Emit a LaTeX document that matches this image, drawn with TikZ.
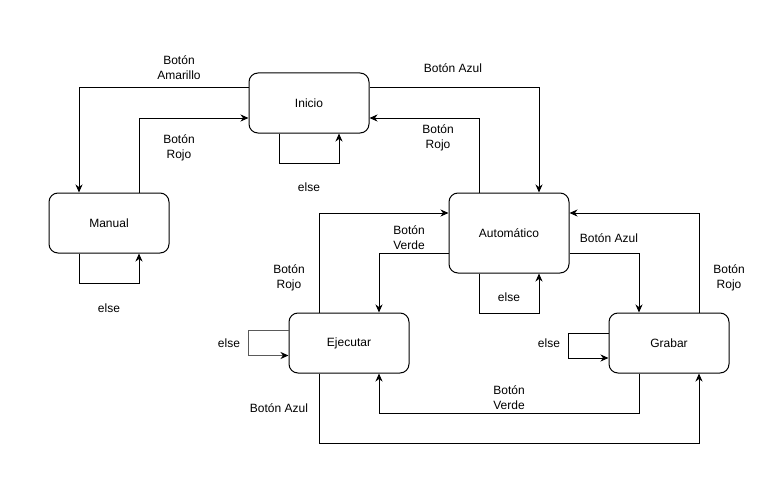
\documentclass[tikz,border=0pt]{standalone}
\usepackage{fontspec}
\setmainfont{Liberation Sans}
\usetikzlibrary{arrows.meta}
\definecolor{loopgray}{RGB}{90,90,90}
\begin{document}
\begin{tikzpicture}[x=1pt,y=-1pt,
  state/.style={draw,line width=1pt,rounded corners=9pt,minimum width=120pt,minimum height=60pt,inner sep=0pt,font=\fontsize{12}{15}\selectfont},
  arr/.style={draw,line width=1pt,-{Stealth[length=8pt,width=7pt,inset=2.5pt]}},
  grayarr/.style={draw=loopgray,line width=1.2pt,-{Stealth[length=8pt,width=7pt,inset=2.5pt,color=black]}},
  lbl/.style={align=center,inner sep=0pt,font=\fontsize{12}{15}\selectfont}]
\useasboundingbox (0,0) rectangle (766,503);
\node[state] (ini) at (309,103) {Inicio};
\node[state] (man) at (109,223) {Manual};
\node[state,minimum height=80pt] (aut) at (509,233) {Automático};
\node[state] (eje) at (349,343) {Ejecutar};
\node[state] (gra) at (669,343) {Grabar};

\draw[arr] ([yshift=15pt]ini.west) -| ([xshift=-30pt]man.north);
\draw[arr] ([xshift=30pt]man.north) |- ([yshift=-15pt]ini.west);
\draw[arr] ([xshift=-30pt]ini.south) -- ++(0,30) -| ([xshift=30pt]ini.south);
\draw[arr] ([xshift=-30pt]man.south) -- ++(0,30) -| ([xshift=30pt]man.south);
\draw[arr] ([yshift=15pt]ini.east) -| ([xshift=30pt]aut.north);
\draw[arr] ([xshift=-30pt]aut.north) |- ([yshift=-15pt]ini.east);
\draw[arr] ([xshift=-30pt]aut.south) -- ++(0,40) -| ([xshift=30pt]aut.south);
\draw[arr] ([yshift=-20pt]aut.west) -| ([xshift=30pt]eje.north);
\draw[arr] ([xshift=-30pt]eje.north) |- ([yshift=20pt]aut.west);
\draw[arr] ([yshift=-20pt]aut.east) -| ([xshift=-30pt]gra.north);
\draw[arr] ([xshift=30pt]gra.north) |- ([yshift=20pt]aut.east);
\draw[grayarr] ([yshift=12.5pt]eje.west) -- ++(-40,0) |- ([yshift=-12.5pt]eje.west);
\draw[arr] ([yshift=10pt]gra.west) -- ++(-40,0) |- ([yshift=-15pt]gra.west);
\draw[arr] ([xshift=-30pt]gra.south) -- ++(0,40) -| ([xshift=30pt]eje.south);
\draw[arr] ([xshift=-30pt]eje.south) -- ++(0,70) -| ([xshift=30pt]gra.south);

\node[lbl] (l1) at (179,68) {Botón\\Amarillo};
\node[lbl] (l2) at (179,148) {Botón\\Rojo};
\node[lbl] (l3) at (309,187) {else};
\node[lbl] (l4) at (109,308) {else};
\node[lbl] (l5) at (453,68) {Botón Azul};
\node[lbl] (l6) at (438,138) {Botón\\Rojo};
\node[lbl] (l7) at (509,297) {else};
\node[lbl] (l8) at (409,238) {Botón\\Verde};
\node[lbl] (l9) at (289,278) {Botón\\Rojo};
\node[lbl] (l10) at (609,238) {Botón Azul};
\node[lbl] (l11) at (729,278) {Botón\\Rojo};
\node[lbl] (l12) at (229,343) {else};
\node[lbl] (l13) at (549,343) {else};
\node[lbl] (l14) at (509,398) {Botón\\Verde};
\node[lbl] (l15) at (279,408) {Botón Azul};
\end{tikzpicture}
\end{document}
